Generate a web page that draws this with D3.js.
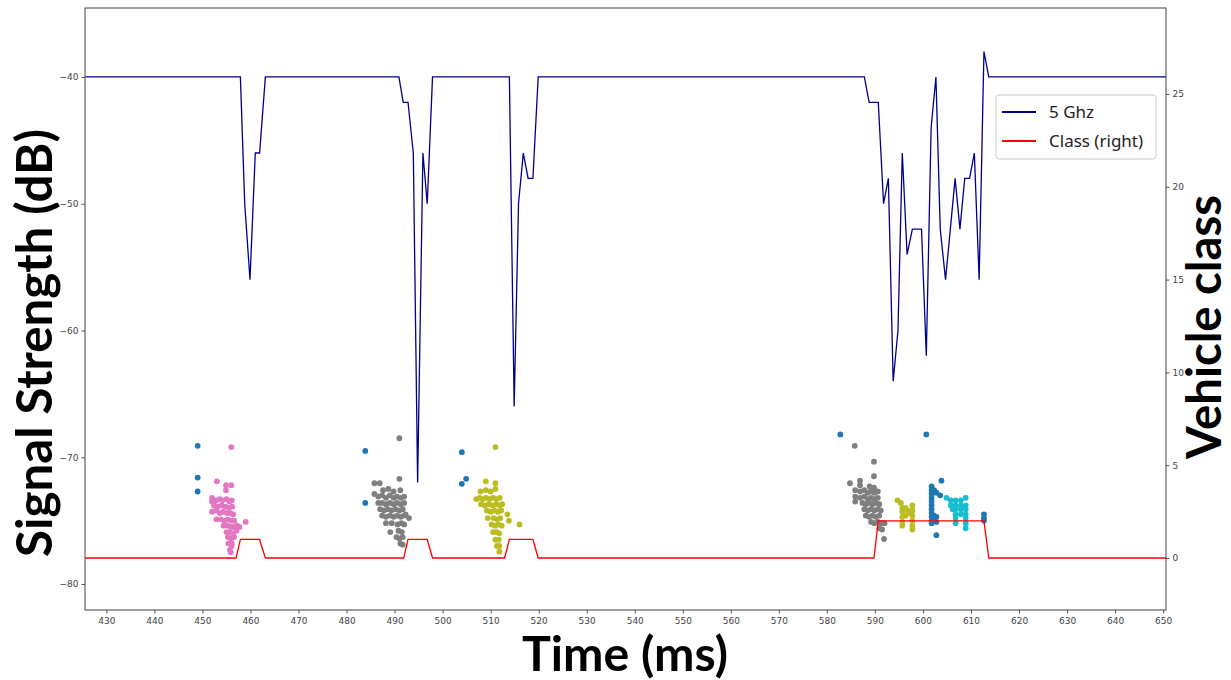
<!DOCTYPE html>
<html>
<head>
<meta charset="utf-8">
<script src="https://cdn.jsdelivr.net/npm/d3@7"></script>
<style>
  body { margin: 0; background: #fff; }
  .tick text { font-family: "DejaVu Sans", sans-serif; font-size: 9px; fill: #444; }
  .tick line { stroke: #555; }
  .domain { display: none; }
</style>
</head>
<body>
<div id="chart"></div>
<script>
// Signal strength line (left axis)
const signalTime = [425.6, 457.9, 458.8, 459.9, 461.0, 461.9, 463.1, 490.9, 491.8, 492.8, 493.9, 494.8, 495.9, 496.8, 497.9,
  513.9, 514.9, 515.8, 516.8, 517.8, 518.8, 519.9, 587.8, 588.8, 590.7, 591.8, 592.8, 593.8, 594.8, 595.7, 596.7, 597.8,
  599.7, 600.7, 601.7, 602.7, 603.6, 604.7, 605.7, 606.7, 607.7, 608.7, 609.7, 610.7, 611.7, 612.7, 613.7, 650.6];
const signalDb = [-40, -40, -50, -56, -46, -46, -40, -40, -42, -42, -46, -72, -46, -50, -40,
  -40, -66, -50, -46, -48, -48, -40, -40, -42, -42, -50, -48, -64, -60, -46, -54, -52,
  -52, -62, -44, -40, -52, -56, -52, -48, -52, -48, -48, -46, -56, -38, -40, -40];

// Vehicle class line (right axis)
const classTime = [425.6, 457.0, 457.9, 461.9, 463.1, 491.9, 492.8, 496.8, 497.9, 512.9, 513.9, 518.8, 519.9, 589.8, 590.7, 612.7, 613.7, 650.6];
const classVal = [0, 0, 1, 1, 0, 0, 1, 1, 0, 0, 1, 1, 0, 0, 2, 2, 0, 0];

// Scatter clusters [time, dB]
const bluePts = [[449.0,-69.1],[449.0,-71.6],[449.0,-72.7],[483.9,-69.5],[483.9,-73.6],[504.0,-69.6],[504.0,-72.1],[504.9,-71.7],
  [582.8,-68.2],[600.7,-68.2],
  [601.8,-72.3],[601.8,-72.6],[601.8,-72.9],[601.8,-73.2],[601.8,-73.5],[601.8,-73.8],[601.8,-74.1],[601.8,-74.4],[601.8,-74.7],[601.8,-75.0],[601.8,-75.2],
  [602.3,-72.6],[602.8,-72.8],[603.6,-73.0],[603.85,-71.85],[602.3,-74.6],[602.8,-74.7],[602.3,-75.0],[602.8,-75.1],[602.8,-76.15],
  [612.7,-74.5],[612.7,-74.8],[612.7,-75.0]];
const pinkPts = [[456.0,-69.2],
  [453.0,-71.9],[454.9,-72.2],[456.0,-72.2],[454.9,-72.6],
  [452.0,-73.2],[452.0,-73.5],[452.9,-73.4],[453.6,-73.3],[454.2,-73.4],[455.0,-73.3],[455.6,-73.5],[456.1,-73.4],
  [452.4,-73.8],[453.2,-73.9],[454.0,-73.8],[454.8,-73.9],[455.5,-74.0],[456.2,-73.9],
  [452.0,-74.3],[452.9,-74.2],[453.6,-74.4],[454.3,-74.3],[455.1,-74.4],[455.8,-74.4],[456.4,-74.5],
  [452.9,-74.9],[453.8,-74.9],[454.6,-75.0],[455.3,-74.9],[456.0,-75.0],[456.6,-75.0],
  [454.4,-75.4],[455.2,-75.4],[455.9,-75.5],[456.6,-75.5],[457.2,-75.4],[457.7,-75.5],[459.0,-75.1],
  [455.0,-75.9],[455.7,-75.9],[456.4,-76.0],[457.1,-75.8],
  [455.3,-76.3],[456.0,-76.4],[456.6,-76.3],
  [455.4,-76.8],[456.1,-76.8],[455.7,-77.3],[456.1,-77.0],[455.9,-77.5]];
const grayPts = [[491.0,-68.5],
  [485.8,-72.05],[486.9,-72.05],[491.0,-71.7],
  [487.6,-72.6],[488.7,-72.5],[489.8,-72.7],[491.2,-72.6],
  [485.8,-72.9],[486.6,-73.1],[487.4,-73.0],[488.2,-73.2],[489.0,-73.0],[489.8,-73.2],[490.5,-73.1],[491.3,-73.2],[492.0,-73.1],
  [486.6,-73.6],[487.4,-73.6],[488.2,-73.7],[489.0,-73.6],[489.8,-73.7],[490.5,-73.6],[491.3,-73.7],[492.0,-73.6],
  [487.0,-74.1],[487.8,-74.2],[488.6,-74.1],[489.4,-74.2],[490.2,-74.1],[491.0,-74.2],[491.7,-74.1],
  [487.4,-74.6],[488.2,-74.7],[489.0,-74.6],[489.8,-74.7],[490.5,-74.6],[491.3,-74.7],[492.0,-74.6],[492.3,-74.5],[493.0,-74.8],
  [488.2,-75.2],[489.4,-75.2],[490.6,-75.3],[491.4,-75.2],[492.0,-75.3],
  [489.1,-75.9],[490.8,-75.8],[491.5,-75.9],
  [490.4,-76.3],[491.0,-76.4],[491.7,-76.3],[491.2,-76.8],[491.7,-76.9],
  [585.8,-69.1],[589.8,-70.35],[589.8,-71.5],
  [584.8,-72.05],[586.9,-71.85],[586.9,-72.2],[588.9,-72.3],[589.8,-72.4],
  [585.9,-72.6],[586.9,-72.7],[587.8,-72.6],[588.5,-72.8],[589.2,-72.7],[589.9,-72.8],[590.6,-72.7],
  [585.9,-73.1],[586.9,-73.2],[587.8,-73.1],[588.5,-73.3],[589.2,-73.2],[589.9,-73.3],[590.6,-73.2],
  [585.9,-73.5],[587.4,-73.6],[588.1,-73.7],[588.8,-73.6],[589.5,-73.7],[590.2,-73.6],[590.9,-73.7],
  [587.8,-74.1],[588.5,-74.2],[589.2,-74.1],[589.9,-74.2],[590.6,-74.1],[591.2,-74.2],
  [588.1,-74.6],[588.8,-74.7],[589.5,-74.6],[590.2,-74.7],[590.9,-74.6],
  [589.2,-75.1],[589.9,-75.2],[590.6,-75.1],[591.3,-75.2],[592.0,-75.2],
  [590.9,-75.6],[591.5,-75.7],[591.9,-76.45]];
const olivePts = [[511.0,-69.2],
  [509.0,-71.9],[511.0,-72.05],
  [507.9,-72.7],[509.0,-72.6],[510.0,-72.7],[511.0,-72.5],
  [507.0,-73.3],[507.7,-73.2],[508.4,-73.3],[509.1,-73.2],[509.8,-73.3],[510.5,-73.2],[511.2,-73.3],[511.9,-73.2],
  [508.0,-73.7],[508.8,-73.8],[509.6,-73.7],[510.4,-73.8],[511.2,-73.7],[511.9,-73.8],[512.4,-73.7],
  [509.2,-74.2],[510.0,-74.3],[510.8,-74.2],[511.5,-74.3],[512.2,-74.2],[513.5,-74.5],
  [509.4,-74.8],[510.6,-74.8],[511.3,-74.9],[512.0,-74.8],[513.8,-75.0],
  [510.2,-75.3],[510.9,-75.4],[511.6,-75.3],[512.3,-75.4],[516.0,-75.3],
  [510.5,-75.9],[511.2,-75.9],[511.8,-76.0],
  [511.0,-76.5],[511.7,-76.5],[511.3,-77.0],[511.8,-77.0],[511.8,-77.45],
  [594.7,-73.4],[595.4,-73.6],[595.7,-74.0],[595.7,-74.3],[595.7,-74.7],[595.7,-75.1],[595.7,-75.4],
  [596.4,-74.0],[596.8,-74.2],[597.3,-74.4],[597.8,-73.8],[597.8,-74.2],[597.8,-74.6],[597.8,-75.0],[597.8,-75.4],[597.8,-75.7],[596.4,-74.6]];
const cyanPts = [[604.9,-73.2],[605.8,-73.4],[606.8,-73.4],[607.9,-73.4],[608.9,-73.2],
  [605.8,-73.8],[606.8,-73.8],[607.9,-73.8],[608.9,-73.8],
  [606.2,-74.1],[606.8,-74.1],[607.9,-74.1],[608.9,-74.1],
  [606.8,-74.5],[607.9,-74.5],[608.9,-74.5],
  [606.8,-74.8],[608.9,-74.8],[606.8,-75.2],[608.9,-75.2],[608.9,-75.6]];

const timeTicks = d3.range(430, 651, 10);
const dbTicks = [-80, -70, -60, -50, -40];
const classTicks = [0, 5, 10, 15, 20, 25];

const width = 1231;
const height = 680;
const plot = { left: 85, right: 1166, top: 8, bottom: 610 };

const svg = d3.select("#chart")
    .append("svg")
    .attr("width", width)
    .attr("height", height);

const x = d3.scaleLinear().domain([425.55, 650.6]).range([plot.left, plot.right]);
const yL = d3.scaleLinear().domain([-82.05, -34.56]).range([plot.bottom, plot.top]);
const yR = d3.scaleLinear().domain([-2.8, 29.63]).range([plot.bottom, plot.top]);

// axes
svg.append("g")
    .attr("transform", `translate(0,${plot.bottom})`)
    .call(d3.axisBottom(x).tickValues(timeTicks).tickSize(3.5).tickPadding(4));
svg.append("g")
    .attr("transform", `translate(${plot.left},0)`)
    .call(d3.axisLeft(yL).tickValues(dbTicks).tickSize(3.5).tickPadding(3)
        .tickFormat(d => "\u2212" + Math.abs(d)));
svg.append("g")
    .attr("transform", `translate(${plot.right},0)`)
    .call(d3.axisRight(yR).tickValues(classTicks).tickSize(3.5).tickPadding(3));

// scatter clusters
const clusters = [
    { pts: grayPts, color: "#7f7f7f" },
    { pts: pinkPts, color: "#e377c2" },
    { pts: olivePts, color: "#bcbd22" },
    { pts: cyanPts, color: "#17becf" },
    { pts: bluePts, color: "#1f77b4" }
];
clusters.forEach(c => {
    svg.append("g").selectAll("circle")
        .data(c.pts)
        .join("circle")
        .attr("cx", d => x(d[0]))
        .attr("cy", d => yL(d[1]))
        .attr("r", 2.9)
        .attr("fill", c.color);
});

// lines
const signalData = signalTime.map((t, i) => [t, signalDb[i]]);
const classData = classTime.map((t, i) => [t, classVal[i]]);

svg.append("path")
    .datum(signalData)
    .attr("fill", "none")
    .attr("stroke", "#00008b")
    .attr("stroke-width", 1.3)
    .attr("d", d3.line().x(d => x(d[0])).y(d => yL(d[1])));

svg.append("path")
    .datum(classData)
    .attr("fill", "none")
    .attr("stroke", "#ff0000")
    .attr("stroke-width", 1.3)
    .attr("d", d3.line().x(d => x(d[0])).y(d => yR(d[1])));

// frame
svg.append("rect")
    .attr("x", plot.left).attr("y", plot.top)
    .attr("width", plot.right - plot.left).attr("height", plot.bottom - plot.top)
    .attr("fill", "none").attr("stroke", "#444").attr("stroke-width", 1);

// scale a text so it spans a given length
function fit(sel, target) {
    const w = sel.node().getComputedTextLength();
    sel.attr("font-size", parseFloat(sel.attr("font-size")) * target / w);
    return sel;
}

// axis titles
fit(svg.append("text")
    .attr("x", 625).attr("y", 671)
    .attr("text-anchor", "middle")
    .attr("font-family", "Lato, sans-serif").attr("font-weight", 700)
    .attr("font-size", 50)
    .text("Time (ms)"), 206);

fit(svg.append("text")
    .attr("transform", "translate(52,343) rotate(-90)")
    .attr("text-anchor", "middle")
    .attr("font-family", "Lato, sans-serif").attr("font-weight", 700)
    .attr("font-size", 50)
    .text("Signal Strength (dB)"), 428);

fit(svg.append("text")
    .attr("transform", "translate(1221,327) rotate(-90)")
    .attr("text-anchor", "middle")
    .attr("font-family", "Lato, sans-serif").attr("font-weight", 700)
    .attr("font-size", 50)
    .text("Vehicle class"), 264);

// legend
const legend = svg.append("g").attr("transform", "translate(996,95)");
legend.append("rect")
    .attr("width", 160).attr("height", 64).attr("rx", 3)
    .attr("fill", "#fff").attr("stroke", "#ccc");
const legendItems = [
    { label: "5 Ghz", color: "#00008b" },
    { label: "Class (right)", color: "#ff0000" }
];
legendItems.forEach((d, i) => {
    legend.append("line")
        .attr("x1", 6).attr("x2", 40)
        .attr("y1", 17 + i * 29).attr("y2", 17 + i * 29)
        .attr("stroke", d.color).attr("stroke-width", 2);
    legend.append("text")
        .attr("x", 53).attr("y", 23 + i * 29)
        .attr("font-family", "Noto Sans, sans-serif")
        .attr("font-size", 17)
        .attr("fill", "#222")
        .text(d.label);
});
</script>
</body>
</html>
